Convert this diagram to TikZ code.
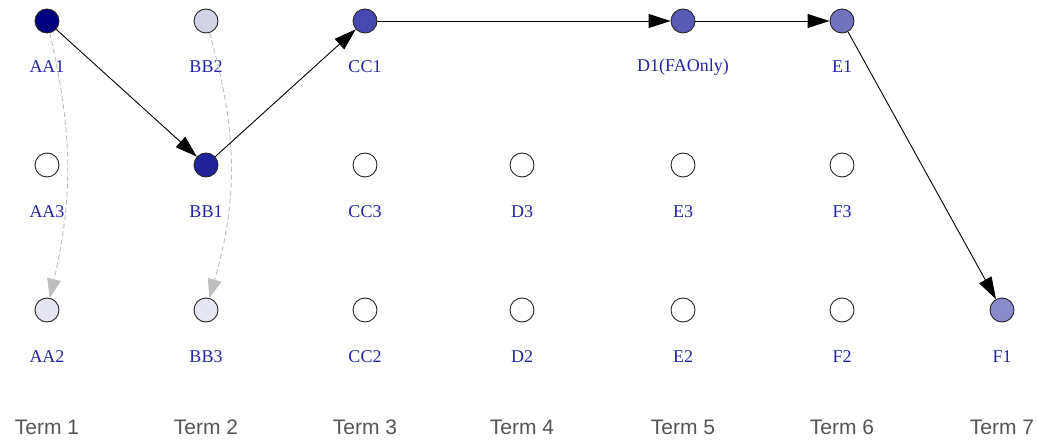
\documentclass[tikz,border=0pt]{standalone}
\usepackage{fontspec}
\newfontfamily\lblfont{Liberation Serif}
\newfontfamily\termfont{Liberation Sans}
\usetikzlibrary{arrows.meta}
\definecolor{lblblue}{RGB}{36,36,165}
\definecolor{termgray}{RGB}{85,85,85}
\definecolor{dashgray}{RGB}{190,190,190}
\tikzset{
  state/.style = {circle, draw=black!85, line width=0.9pt, minimum size=24pt, inner sep=0pt, fill=white},
  lbl/.style   = {text=lblblue, font=\lblfont\fontsize{18}{18}\selectfont},
  term/.style  = {text=termgray, font=\termfont\fontsize{21}{21}\selectfont},
  path/.style  = {-{Triangle[length=22pt,width=14pt]}, line width=0.9pt},
  alt/.style   = {-{Triangle[length=19pt,width=14pt]}, line width=0.9pt, draw=dashgray, dash pattern=on 5pt off 3pt},
}

\begin{document}
\begin{tikzpicture}[x=1pt,y=-1pt]
    \useasboundingbox (0,0) rectangle (1038,446);

    % Top row
    \node[state, fill={rgb,255:red,0;green,0;blue,128}]     (AA1) at (47,21)   {};
    \node[state, fill={rgb,255:red,210;green,210;blue,230}] (BB2) at (206,21)  {};
    \node[state, fill={rgb,255:red,72;green,72;blue,176}]   (CC1) at (365,21)  {};
    \node[state, fill={rgb,255:red,90;green,90;blue,181}]   (D1)  at (683,21)  {};
    \node[state, fill={rgb,255:red,114;green,114;blue,190}] (E1)  at (842,21)  {};

    % Middle row
    \node[state] (AA3) at (47,165) {};
    \node[state, fill={rgb,255:red,34;green,34;blue,154}]   (BB1) at (206,165) {};
    \node[state] (CC3) at (365,165) {};
    \node[state] (D3)  at (522,165) {};
    \node[state] (E3)  at (683,165) {};
    \node[state] (F3)  at (842,165) {};

    % Bottom row
    \node[state, fill={rgb,255:red,230;green,230;blue,242}] (AA2) at (47,310)  {};
    \node[state, fill={rgb,255:red,230;green,230;blue,242}] (BB3) at (206,310) {};
    \node[state] (CC2) at (365,310) {};
    \node[state] (D2)  at (522,310) {};
    \node[state] (E2)  at (683,310) {};
    \node[state] (F2)  at (842,310) {};
    \node[state, fill={rgb,255:red,138;green,138;blue,204}] (F1)  at (1002,310) {};

    % Names under the nodes
    \node[lbl] (AA1-l) at (47,67)   {AA1};
    \node[lbl] (BB2-l) at (206,67)  {BB2};
    \node[lbl] (CC1-l) at (365,67)  {CC1};
    \node[lbl] (D1-l)  at (683,67)  {D1(FAOnly)};
    \node[lbl] (E1-l)  at (842,67)  {E1};
    \node[lbl] (AA3-l) at (47,212)  {AA3};
    \node[lbl] (BB1-l) at (206,212) {BB1};
    \node[lbl] (CC3-l) at (365,212) {CC3};
    \node[lbl] (D3-l)  at (522,212) {D3};
    \node[lbl] (E3-l)  at (683,212) {E3};
    \node[lbl] (F3-l)  at (842,212) {F3};
    \node[lbl] (AA2-l) at (47,357)  {AA2};
    \node[lbl] (BB3-l) at (206,357) {BB3};
    \node[lbl] (CC2-l) at (365,357) {CC2};
    \node[lbl] (D2-l)  at (522,357) {D2};
    \node[lbl] (E2-l)  at (683,357) {E2};
    \node[lbl] (F2-l)  at (842,357) {F2};
    \node[lbl] (F1-l)  at (1002,357) {F1};

    % Term axis
    \foreach \x/\t in {47/1,206/2,365/3,522/4,683/5,842/6,1002/7}
      \node[term] (term\t) at (\x,427) {Term \t};

    % Alternative moves (dashed)
    \draw[alt] (AA1) to[bend left=13] (AA2);
    \draw[alt] (BB2) to[bend left=16] (BB3);

    % Main path
    \draw[path] (AA1) -- (BB1);
    \draw[path] (BB1) -- (CC1);
    \draw[path] (CC1) -- (D1);
    \draw[path] (D1) -- (E1);
    \draw[path] (E1) -- (F1);
\end{tikzpicture}
\end{document}
